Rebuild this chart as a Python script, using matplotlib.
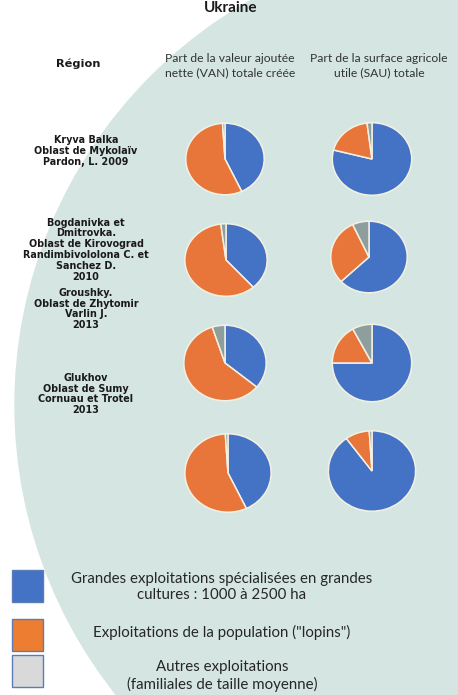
import matplotlib.pyplot as plt
from matplotlib.patches import Circle, Rectangle

# Data: share of each farm type (blue, orange, grey), clockwise from 12 o'clock
regions = [
    "Kryva Balka\nOblast de Mykolaïv\nPardon, L. 2009",
    "Bogdanivka et\nDmitrovka.\nOblast de Kirovograd\nRandimbivololona C. et\nSanchez D.\n2010",
    "Groushky.\nOblast de Zhytomir\nVarlin J.\n2013",
    "Glukhov\nOblast de Sumy\nCornuau et Trotel\n2013",
]
van_share = [
    [43, 56, 1],
    [38.5, 59.5, 2],
    [36, 59, 5],
    [43, 56, 1],
]
sau_share = [
    [79, 19, 2],
    [63, 30, 7],
    [75, 17, 8],
    [90, 9, 1],
]
col_headers = ["Part de la valeur ajoutée\nnette (VAN) totale créée",
               "Part de la surface agricole\nutile (SAU) totale"]
legend_labels = ["Grandes exploitations spécialisées en grandes\ncultures : 1000 à 2500 ha",
                 "Exploitations de la population (\"lopins\")",
                 "Autres exploitations\n(familiales de taille moyenne)"]

pie_colors = ["#4472c4", "#e8763a", "#8e9e9c"]
legend_colors = ["#4472c4", "#ed7d31", "#d9d9d9"]

W, H = 458, 695
fig = plt.figure(figsize=(W / 100, H / 100), dpi=100)
bg = fig.add_axes([0, 0, 1, 1])
bg.set_xlim(0, W)
bg.set_ylim(H, 0)
bg.axis("off")

# big pale circle in the background
bg.add_patch(Circle((480, 405), 465, color="#d5e6e2", zorder=0))

bg.text(231, 12, "Ukraine", ha="center", va="baseline", fontsize=11,
        fontweight="bold", family="Lato", color="#1a1a1a")
bg.text(78, 64, "Région", ha="center", va="center", fontsize=8.2,
        fontweight="bold", family="DejaVu Sans", color="#1a1a1a")
for x, h in zip([230, 379], col_headers):
    bg.text(x, 65.5, h, ha="center", va="center", fontsize=8.7, family="Lato",
            color="#333333", linespacing=1.3)

# region labels
label_y = [151, 249.5, 309, 394]
for y, r in zip(label_y, regions):
    bg.text(86, y, r, ha="center", va="center", fontsize=6.9,
            fontweight="bold", family="DejaVu Sans", color="#1a1a1a",
            linespacing=1.1)

# pie layout (pixel centre, half width, half height)
van_pos = [(225, 159, 40, 36.5), (226, 260, 42, 37), (225, 363, 42, 38.5), (228, 473, 44, 40)]
sau_pos = [(372, 159, 40.5, 37), (369, 257, 39, 36.5), (372, 363, 40.5, 39.5), (372, 471, 44.5, 41)]


def draw_pie(vals, pos):
    cx, cy, rx, ry = pos
    ax = fig.add_axes([(cx - rx) / W, 1 - (cy + ry) / H, 2 * rx / W, 2 * ry / H])
    ax.pie(vals, colors=pie_colors, startangle=90, counterclock=False,
           wedgeprops=dict(edgecolor="#f3f1e4", linewidth=1.1))
    ax.set_aspect("auto")
    ax.set_xlim(-1.02, 1.02)
    ax.set_ylim(-1.02, 1.02)
    ax.axis("off")


for vals, pos in zip(van_share, van_pos):
    draw_pie(vals, pos)
for vals, pos in zip(sau_share, sau_pos):
    draw_pie(vals, pos)

# legend
box_y = [570, 619, 655]
text_y = [587, 632, 676]
for by, ty, c, lab in zip(box_y, text_y, legend_colors, legend_labels):
    bg.add_patch(Rectangle((12, by), 31, 32, facecolor=c, edgecolor="#5a7db8",
                           linewidth=1, zorder=2))
    bg.text(222, ty, lab, ha="center", va="center", fontsize=10.8, family="Lato",
            color="#262626", linespacing=1.25)

plt.savefig("out.png", dpi=100)
